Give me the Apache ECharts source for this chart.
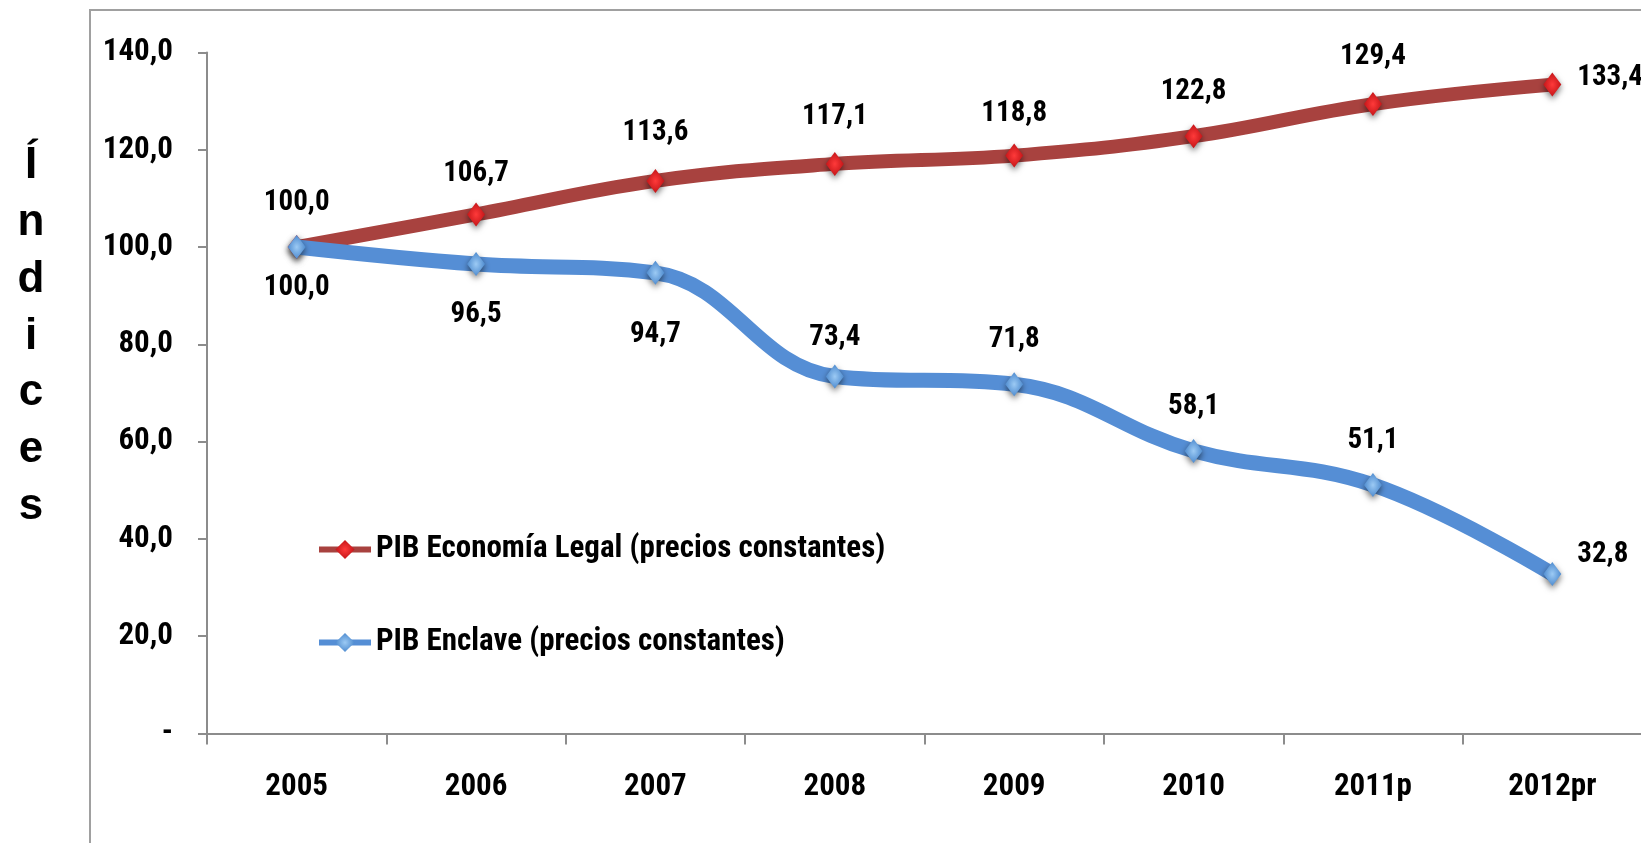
<!DOCTYPE html>
<html>
<head>
<meta charset="utf-8">
<script src="https://cdn.jsdelivr.net/npm/echarts@6/dist/echarts.min.js"></script>
<style>
html,body{margin:0;padding:0;background:#fff;}
#chart{width:1641px;height:843px;}
</style>
</head>
<body>
<div id="chart"></div>
<script>
const categories = ['2005','2006','2007','2008','2009','2010','2011p','2012pr'];
const legalName = 'PIB Economía Legal (precios constantes)';
const enclaveName = 'PIB Enclave (precios constantes)';
const legalValues = [100.0, 106.7, 113.6, 117.1, 118.8, 122.8, 129.4, 133.4];
const enclaveValues = [100.0, 96.5, 94.7, 73.4, 71.8, 58.1, 51.1, 32.8];
const yTitle = 'Índices';

const NARROW = "'Roboto Condensed','Liberation Sans Narrow','Arial Narrow',sans-serif";
const fmt = v => v.toFixed(1).replace('.', ',');

// label placement (style only)
const legalLabelPos = ['top','top','top','top','top','top','top','right'];
const legalLabelShift = [0, 4, -4, -3, 3, 0, -3, -7];
const enclaveLabelPos = ['bottom','bottom','bottom','top','top','top','top','right'];
const enclaveLabelShift = [-8, 2, 13, 6, 0, 0, 0, -19];

function buildData(values, positions, shifts) {
  return values.map((v, i) => {
    const pos = positions[i];
    const label = { position: pos, offset: [0, shifts[i]] };
    if (pos === 'right') { label.distance = 16; }
    if (pos === 'bottom') { label.distance = 22; }
    return { value: v, label: label };
  });
}

const chart = echarts.init(document.getElementById('chart'), null, {renderer: 'canvas'});

const redMarker = {
  type: 'radial', x: 0.5, y: 0.5, r: 0.6,
  colorStops: [{offset: 0, color: '#ff3a3a'}, {offset: 1, color: '#b80e12'}]
};
const blueMarker = {
  type: 'radial', x: 0.5, y: 0.5, r: 0.6,
  colorStops: [{offset: 0, color: '#9ccaf4'}, {offset: 1, color: '#3f7fc8'}]
};

const labelStyle = {
  show: true,
  fontFamily: NARROW,
  fontWeight: 'bold',
  fontSize: 29,
  color: '#000',
  distance: 18,
  formatter: p => fmt(p.value)
};

const option = {
  animation: false,
  backgroundColor: '#fff',
  grid: {
    left: 207, top: 52.5, width: 1435, height: 681,
    containLabel: false, outerBoundsMode: 'none'
  },
  graphic: [
    {
      type: 'rect', silent: true, z: -10,
      shape: {x: 90, y: 10, width: 1700, height: 1000},
      style: {fill: 'none', stroke: '#a0a0a0', lineWidth: 2}
    },
    {
      type: 'text', x: 31, y: 138,
      style: {
        text: yTitle.split('').join('\n'),
        font: "bold 44px 'Liberation Sans', Arial, sans-serif",
        fill: '#000', lineHeight: 56.7, align: 'center', verticalAlign: 'top'
      }
    }
  ],
  legend: {
    orient: 'vertical',
    left: 311, top: 529,
    itemWidth: 52, itemHeight: 24, itemGap: 62,
    data: [legalName, enclaveName],
    textStyle: {fontFamily: NARROW, fontWeight: 'bold', fontSize: 31, color: '#000'},
    lineStyle: {width: 6}
  },
  xAxis: {
    type: 'category',
    data: categories,
    boundaryGap: true,
    axisLine: {show: true, lineStyle: {color: '#8c8c8c', width: 2}},
    axisTick: {show: true, length: 11, lineStyle: {color: '#8c8c8c', width: 2}},
    axisLabel: {fontFamily: NARROW, fontWeight: 'bold', fontSize: 31, color: '#000', margin: 38},
    splitLine: {show: false}
  },
  yAxis: {
    type: 'value',
    min: 0, max: 140, interval: 20,
    axisLine: {show: true, lineStyle: {color: '#8c8c8c', width: 2}},
    axisTick: {show: true, length: 9, lineStyle: {color: '#8c8c8c', width: 2}},
    axisLabel: {
      fontFamily: NARROW, fontWeight: 'bold', fontSize: 31, color: '#000', margin: 34,
      formatter: v => v === 0 ? '-' : fmt(v)
    },
    splitLine: {show: false}
  },
  series: [
    {
      name: legalName,
      type: 'line',
      smooth: 0.4,
      data: buildData(legalValues, legalLabelPos, legalLabelShift),
      lineStyle: {color: '#a8423f', width: 14},
      itemStyle: {color: redMarker, shadowBlur: 6, shadowColor: 'rgba(0,0,0,0.55)', shadowOffsetY: 3},
      symbol: 'diamond',
      symbolSize: [18, 24],
      showAllSymbol: true,
      label: labelStyle,
      z: 2
    },
    {
      name: enclaveName,
      type: 'line',
      smooth: 0.4,
      data: buildData(enclaveValues, enclaveLabelPos, enclaveLabelShift),
      lineStyle: {color: '#558ed5', width: 15},
      itemStyle: {color: blueMarker, shadowBlur: 6, shadowColor: 'rgba(0,0,0,0.55)', shadowOffsetY: 3},
      symbol: 'diamond',
      symbolSize: [18, 24],
      showAllSymbol: true,
      label: labelStyle,
      z: 3
    }
  ]
};
chart.setOption(option);
</script>
</body>
</html>
